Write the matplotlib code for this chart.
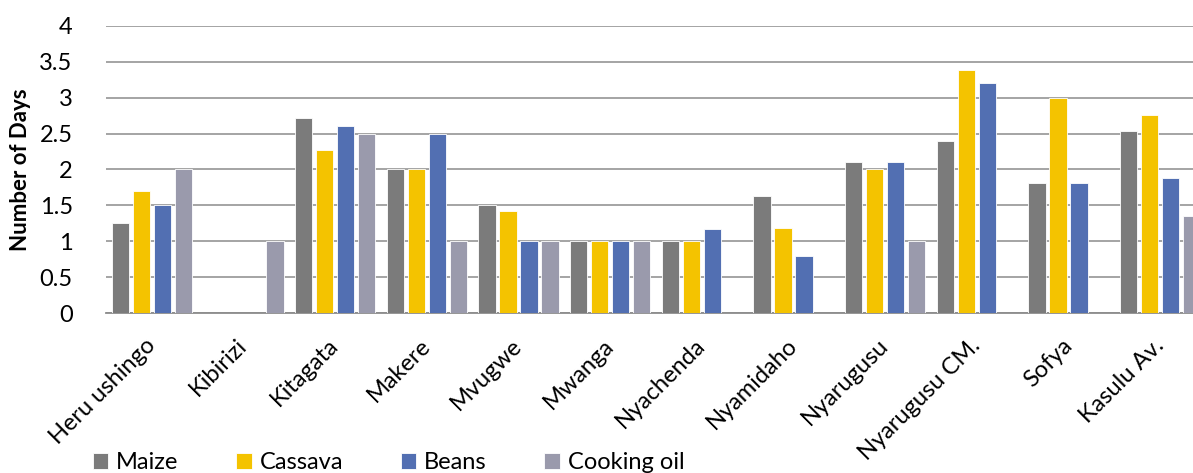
import numpy as np
import matplotlib
matplotlib.use("Agg")
import matplotlib.pyplot as plt

plt.rcParams["font.family"] = ["Lato", "DejaVu Sans"]

# ==============================
# Data
# ==============================

sites = [
    "Heru ushingo", "Kibirizi", "Kitagata", "Makere", "Mvugwe", "Mwanga",
    "Nyachenda", "Nyamidaho", "Nyarugusu", "Nyarugusu CM.", "Sofya", "Kasulu Av.",
]

maize = [1.25, 0, 2.71, 2.0, 1.5, 1.0, 1.0, 1.63, 2.1, 2.4, 1.81, 2.54]
cassava = [1.7, 0, 2.27, 2.0, 1.42, 1.0, 1.0, 1.19, 2.0, 3.38, 3.0, 2.76]
beans = [1.5, 0, 2.6, 2.5, 1.0, 1.0, 1.17, 0.8, 2.1, 3.2, 1.81, 1.88]
cooking_oil = [2.0, 1.0, 2.5, 1.0, 1.0, 1.0, 0, 0, 1.0, 0, 0, 1.36]

series = [
    ("Maize", maize, "#7b7b7b"),
    ("Cassava", cassava, "#f4c300"),
    ("Beans", beans, "#526fb2"),
    ("Cooking oil", cooking_oil, "#9a9aac"),
]

# ==============================
# Figure
# ==============================

fig = plt.figure(figsize=(11.93, 4.73), dpi=100)

# plot area runs slightly past the right edge
ax = fig.add_axes([106 / 1193, 1 - 313.3 / 473, 1100 / 1193, 287.6 / 473])

x = np.arange(len(sites))
pitch = 0.229

for i, (name, vals, color) in enumerate(series):
    ax.bar(
        x + (i - 1.5) * pitch,
        vals,
        width=0.19,
        color=color,
        edgecolor="white",
        linewidth=0.6,
        label=name,
        zorder=3,
    )

ax.set_xlim(-0.5, len(sites) - 0.5)
ax.set_ylim(0, 4)
ax.set_yticks(np.arange(0, 4.01, 0.5))
ax.set_yticklabels(["0", "0.5", "1", "1.5", "2", "2.5", "3", "3.5", "4"])

ax.yaxis.grid(True, color="#8c8c8c", linewidth=1.1, zorder=0)
ax.set_axisbelow(True)

for side in ["top", "right", "left"]:
    ax.spines[side].set_visible(False)
ax.spines["bottom"].set_color("#8c8c8c")
ax.spines["bottom"].set_linewidth(1.3)

ax.tick_params(axis="y", length=0, pad=24, labelsize=17)
ax.tick_params(axis="x", length=0, pad=21, labelsize=17)

ax.set_xticks(x)
ax.set_xticklabels(sites, rotation=45, ha="right", rotation_mode="anchor", va="center")

ax.set_ylabel("Number of Days", fontsize=16, fontweight="bold", labelpad=6)

# ==============================
# Legend
# ==============================

fig.legend(
    loc="center left",
    bbox_to_anchor=(93 / 1193, 1 - 462.5 / 473),
    ncol=4,
    frameon=False,
    fontsize=17,
    handlelength=0.65,
    handleheight=0.65,
    handletextpad=0.33,
    columnspacing=2.45,
    borderpad=0,
    borderaxespad=0,
)

fig.savefig("out.png", dpi=100)
